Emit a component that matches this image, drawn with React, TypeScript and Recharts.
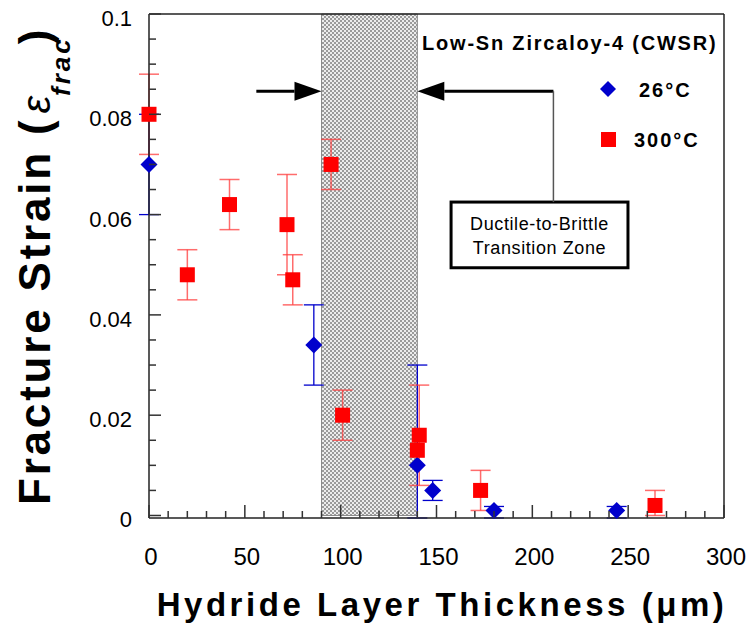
import React from 'react';
import { ScatterChart, Scatter, XAxis, YAxis, ErrorBar, ReferenceArea, ReferenceLine } from 'recharts';

// 26°C series (blue diamonds)
const roomThickness = [0, 86, 140, 148, 180, 244];
const roomStrain = [0.07, 0.034, 0.01, 0.005, 0.001, 0.001];
const roomErrLow = [0.01, 0.008, 0.0105, 0.002, 0.0015, 0.0015];
const roomErrHigh = [0.01, 0.008, 0.02, 0.002, 0.0008, 0.0008];

// 300°C series (red squares)
const hotThickness = [0, 20, 42, 72, 75, 95, 101, 140, 141, 173, 264];
const hotStrain = [0.08, 0.048, 0.062, 0.058, 0.047, 0.07, 0.02, 0.013, 0.016, 0.005, 0.002];
const hotErrLow = [0.008, 0.005, 0.005, 0.01, 0.005, 0.005, 0.005, null, 0.01, 0.004, 0.002];
const hotErrHigh = [0.008, 0.005, 0.005, 0.01, 0.005, 0.005, 0.005, null, 0.01, 0.004, 0.003];

const xTicks = [0, 10, 20, 30, 40, 50, 60, 70, 80, 90, 100, 110, 120, 130, 140, 150, 160, 170, 180, 190, 200,
  210, 220, 230, 240, 250, 260, 270, 280, 290, 300];
const yTicks = [0, 0.005, 0.01, 0.015, 0.02, 0.025, 0.03, 0.035, 0.04, 0.045, 0.05, 0.055, 0.06, 0.065, 0.07,
  0.075, 0.08, 0.085, 0.09, 0.095, 0.1];

// transition zone + annotation positions (data units)
const zoneStart = 90;
const zoneEnd = 140;
const arrowLevel = 0.0846;
const leftArrowFrom = 56;
const rightArrowFrom = 211;
const noteBox = { x1: 157.6, x2: 249.9, y1: 0.0494, y2: 0.0625 };
const noteLines = ['Ductile-to-Brittle', 'Transition Zone'];

const FONT = '"Liberation Sans", Arial, sans-serif';
const AXIS = '#333';

const roomData = roomThickness.map((x, i) => ({
  x, y: roomStrain[i], err: roomErrLow[i] == null ? null : [roomErrLow[i], roomErrHigh[i]],
}));
const hotData = hotThickness.map((x, i) => ({
  x, y: hotStrain[i], err: hotErrLow[i] == null ? null : [hotErrLow[i], hotErrHigh[i]],
}));

const isMajorX = (v: number) => v % 50 === 0;
const isMajorY = (v: number) => Math.round(v * 1000) % 20 === 0;

// tick marks point inwards; labels only on major ticks
const BottomTick = (p: any) => {
  const v = p.payload.value;
  const major = isMajorX(v);
  return (
    <g>
      <rect x={p.x - 0.75} y={p.y - (major ? 13 : 7)} width={1.5} height={major ? 13 : 7} fill={AXIS} />
      {major && <text x={p.x + 2} y={p.y + 47} textAnchor="middle" fontSize={24} fontFamily={FONT} fill="#000">{v}</text>}
    </g>
  );
};

const TopTick = (p: any) => {
  const major = isMajorX(p.payload.value);
  return <rect x={p.x - 0.75} y={p.y} width={1.5} height={major ? 13 : 7} fill={AXIS} />;
};

const LeftTick = (p: any) => {
  const v = p.payload.value;
  const major = isMajorY(v);
  return (
    <g>
      <rect x={p.x} y={p.y - 0.75} width={major ? 12 : 7} height={1.5} fill={AXIS} />
      {major && (
        <text x={p.x - 17} y={p.y + 12} textAnchor="end" fontSize={22} fontFamily={FONT} fill="#000">
          {String(Math.round(v * 100) / 100)}
        </text>
      )}
    </g>
  );
};

const RightTick = (p: any) => {
  const major = isMajorY(p.payload.value);
  return <rect x={p.x - (major ? 13 : 7)} y={p.y - 0.75} width={major ? 13 : 7} height={1.5} fill={AXIS} />;
};

const Diamond = (p: any) => {
  const r = 8.5;
  return <polygon points={`${p.cx},${p.cy - r} ${p.cx + r},${p.cy} ${p.cx},${p.cy + r} ${p.cx - r},${p.cy}`} fill="#0000cc" />;
};

const Square = (p: any) => <rect x={p.cx - 7.5} y={p.cy - 7.5} width={15} height={15} fill="#ff0000" />;

const Arrow = (p: any) => {
  const dir = p.x2 > p.x1 ? 1 : -1;
  const head = 27;
  const bx = p.x2 - dir * head;
  return (
    <g>
      <line x1={p.x1} y1={p.y1} x2={bx} y2={p.y2} stroke="#000" strokeWidth={3} />
      <polygon points={`${p.x2},${p.y2} ${bx},${p.y2 - 9.5} ${bx},${p.y2 + 9.5}`} fill="#000" />
    </g>
  );
};

const NoteBox = (p: any) => {
  const cx = p.x + p.width / 2;
  return (
    <g>
      <rect x={p.x} y={p.y} width={p.width} height={p.height} fill="#fff" stroke="#000" strokeWidth={3} />
      {noteLines.map((t, i) => (
        <text key={t} x={cx} y={p.y + 28 + i * 24} textAnchor="middle" fontSize={18} letterSpacing={0.6}
          fontFamily={FONT} fill="#000">{t}</text>
      ))}
    </g>
  );
};

export default function App() {
  return (
    <div style={{ position: 'absolute', left: 0, top: 0, width: 753, height: 632, background: '#fff' }}>
      <svg width={0} height={0} style={{ position: 'absolute' }}>
        <defs>
          <pattern id="hatch" width={4} height={4} patternUnits="userSpaceOnUse">
            <rect width={4} height={4} fill="#ececec" />
            <rect width={2} height={2} fill="#9a9a9a" />
            <rect x={2} y={2} width={2} height={2} fill="#9a9a9a" />
          </pattern>
        </defs>
      </svg>
      <ScatterChart width={753} height={632} margin={{ top: 0, right: 0, bottom: 0, left: 0 }}>
        <XAxis dataKey="x" type="number" domain={[0, 300]} ticks={xTicks} interval={0} height={114}
          tickSize={0} tickMargin={0} tick={BottomTick} axisLine={{ stroke: '#222', strokeWidth: 1.5 }} tickLine={false} />
        <XAxis xAxisId="top" orientation="top" type="number" domain={[0, 300]} ticks={xTicks} interval={0} height={14}
          tickSize={0} tickMargin={0} tick={TopTick} axisLine={{ stroke: '#222', strokeWidth: 1.5 }} tickLine={false} />
        <YAxis dataKey="y" type="number" domain={[0, 0.1]} ticks={yTicks} interval={0} width={149}
          tickSize={0} tickMargin={0} tick={LeftTick} axisLine={{ stroke: '#222', strokeWidth: 1.5 }} tickLine={false} />
        <YAxis yAxisId="right" orientation="right" type="number" domain={[0, 0.1]} ticks={yTicks} interval={0} width={29}
          tickSize={0} tickMargin={0} tick={RightTick} axisLine={{ stroke: '#222', strokeWidth: 1.5 }} tickLine={false} />

        <ReferenceArea x1={zoneStart} x2={zoneEnd} y1={0} y2={0.1} fill="url(#hatch)" fillOpacity={1}
          stroke="#8a8a8a" strokeWidth={1} />

        <ReferenceLine segment={[{ x: leftArrowFrom, y: arrowLevel }, { x: zoneStart, y: arrowLevel }]} shape={Arrow} />
        <ReferenceLine segment={[{ x: rightArrowFrom, y: arrowLevel }, { x: zoneEnd, y: arrowLevel }]} shape={Arrow} />
        <ReferenceLine segment={[{ x: rightArrowFrom, y: arrowLevel }, { x: rightArrowFrom, y: noteBox.y2 }]}
          stroke="#555" strokeWidth={1.5} />
        <ReferenceArea x1={noteBox.x1} x2={noteBox.x2} y1={noteBox.y1} y2={noteBox.y2} shape={NoteBox} />

        <Scatter name="26°C" data={roomData} shape={Diamond} isAnimationActive={false}>
          <ErrorBar dataKey="err" direction="y" width={10} stroke="#0000cc" strokeWidth={1.3} />
        </Scatter>
        <Scatter name="300°C" data={hotData} shape={Square} isAnimationActive={false}>
          <ErrorBar dataKey="err" direction="y" width={10} stroke="#ff3b3b" strokeOpacity={0.75} strokeWidth={1.5} />
        </Scatter>
      </ScatterChart>

      {/* axis titles and legend */}
      <svg width={753} height={632} style={{ position: 'absolute', left: 0, top: 0, pointerEvents: 'none' }}>
        <text x={50} y={505} transform="rotate(-90 50 505)" fontFamily={FONT} fill="#000">
          <tspan fontSize={44} fontWeight="bold" letterSpacing={2.8}>Fracture Strain (</tspan>
          <tspan fontSize={40} fontStyle="italic" dx={4}>ε</tspan>
          <tspan fontSize={26} fontStyle="italic" fontWeight="bold" letterSpacing={3} dy={20}>frac</tspan>
          <tspan fontSize={44} fontWeight="bold" dy={-20} dx={-8}>)</tspan>
        </text>
        <text x={442} y={616} textAnchor="middle" fontSize={33} fontWeight="bold" letterSpacing={3.55}
          fontFamily={FONT} fill="#000">Hydride Layer Thickness (μm)</text>

        <text x={422} y={50} fontSize={20} fontWeight="bold" letterSpacing={1.8} fontFamily={FONT} fill="#000">
          Low-Sn Zircaloy-4 (CWSR)
        </text>
        <polygon points="608,81 616,89 608,97 600,89" fill="#0000cc" />
        <text x={639} y={97} fontSize={20} fontWeight="bold" letterSpacing={2} fontFamily={FONT} fill="#000">26°C</text>
        <rect x={601} y={132} width={15} height={15} fill="#ff0000" />
        <text x={634} y={147} fontSize={20} fontWeight="bold" letterSpacing={2} fontFamily={FONT} fill="#000">300°C</text>
      </svg>
    </div>
  );
}
